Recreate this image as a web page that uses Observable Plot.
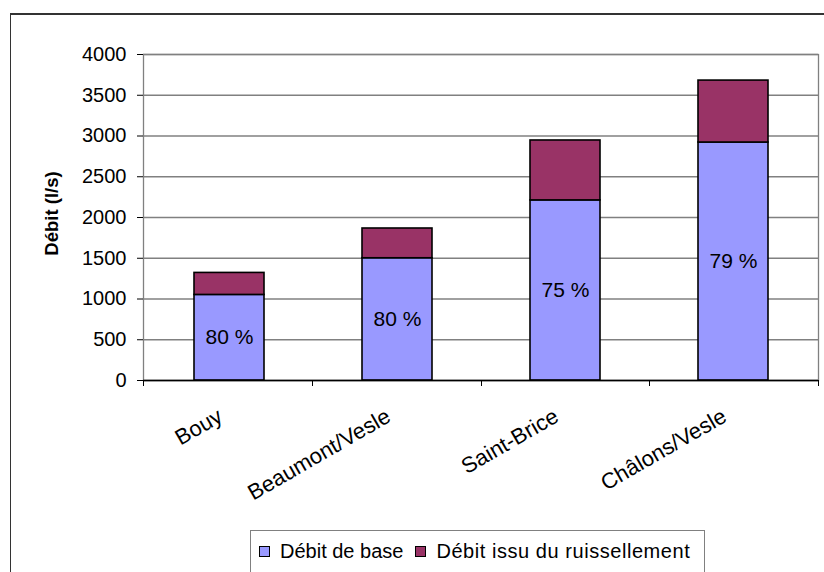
<!DOCTYPE html>
<html>
<head>
<meta charset="utf-8">
<script src="https://cdn.jsdelivr.net/npm/d3@7"></script>
<script src="https://cdn.jsdelivr.net/npm/@observablehq/plot@0.6"></script>
<style>
  html, body { margin: 0; padding: 0; background: #fff; }
  #chart {
    position: relative; width: 824px; height: 572px; overflow: hidden;
    font-family: "Liberation Sans", Arial, sans-serif; color: #000;
  }
  #frame {
    position: absolute; left: 10px; top: 13px; width: 900px; height: 700px;
    border-top: 2px solid #333; border-left: 1.5px solid #333;
  }
  #plot { position: absolute; left: 0; top: 0; }
  #legend {
    position: absolute; left: 250px; top: 530px; width: 455px; height: 60px;
    border: 1px solid #808080; background: #fff; box-sizing: border-box;
    display: flex; align-items: flex-start; padding: 9px 0 0 8px;
    font-size: 20px; white-space: nowrap;
  }
  .item { display: flex; align-items: center; margin-right: 12px; }
  .item:last-child span { letter-spacing: 0.55px; }
  .swatch {
    width: 9px; height: 9px; border: 1.2px solid #000; margin-right: 10px;
  }
</style>
</head>
<body>
<div id="chart">
  <div id="frame"></div>
  <div id="plot"></div>
  <div id="legend"></div>
</div>
<script>
// Gauging stations along the Vesle, upstream to downstream
const stations = ["Bouy", "Beaumont/Vesle", "Saint-Brice", "Châlons/Vesle"];
// Base flow and runoff flow, l/s
const baseFlow = [1050, 1500, 2210, 2920];
const runoffFlow = [270, 365, 735, 760];
// Share of base flow in the total, as printed on the bars
const baseShare = ["80 %", "80 %", "75 %", "79 %"];
const seriesNames = ["Débit de base", "Débit issu du ruissellement"];
const seriesColors = ["#9999FF", "#993366"];
const yTicks = [0, 500, 1000, 1500, 2000, 2500, 3000, 3500, 4000];
const yLabel = "Débit (l/s)";

const rows = stations.flatMap((s, i) => [
  {station: s, series: seriesNames[0], value: baseFlow[i]},
  {station: s, series: seriesNames[1], value: runoffFlow[i]}
]);
const shares = stations.map((s, i) => ({station: s, mid: baseFlow[i] / 2, label: baseShare[i]}));

// Small ticks on the category axis, at the boundaries between stations
const categoryTicks = (index, scales, values, dim) => {
  const g = d3.create("svg:g").attr("stroke", "#000").attr("stroke-width", 1);
  const n = stations.length;
  const x0 = dim.marginLeft, w = dim.width - dim.marginLeft - dim.marginRight;
  const yb = dim.height - dim.marginBottom;
  for (let i = 0; i <= n; ++i) {
    const x = Math.round(x0 + i * w / n) + 0.5;
    g.append("line").attr("x1", x).attr("x2", x).attr("y1", yb).attr("y2", yb + 6);
  }
  return g.node();
};

const chart = Plot.plot({
  width: 824,
  height: 525,
  marginLeft: 143,
  marginRight: 6,
  marginTop: 54,
  marginBottom: 145,
  style: {fontFamily: "'Liberation Sans', Arial, sans-serif", fontSize: "20px", color: "#000", background: "transparent"},
  x: {domain: stations, paddingInner: 0.586, paddingOuter: 0.293, axis: null},
  y: {domain: [0, 4000], axis: null},
  color: {domain: seriesNames, range: seriesColors},
  marks: [
    Plot.ruleY(yTicks, {stroke: "#808080", strokeWidth: 1.3}),
    Plot.frame({stroke: "#808080", strokeWidth: 1.3}),
    Plot.barY(rows, Plot.stackY({x: "station", y: "value", fill: "series", stroke: "#000", strokeWidth: 1.6})),
    Plot.text(shares, {x: "station", y: "mid", text: "label", fontSize: 21, fill: "#000"}),
    Plot.axisY({ticks: yTicks, tickFormat: d => String(d), tickSize: 6, tickPadding: 11, fontSize: 20, label: null, line: true, stroke: "#000"}),
    Plot.ruleY([0], {stroke: "#000", strokeWidth: 1.5}),
    categoryTicks,
    Plot.text(stations, {x: d => d, y: () => 0, text: d => d, rotate: -30, textAnchor: "end", lineAnchor: "middle", dx: -9, dy: 34, fontSize: 22, fill: "#000"}),
    Plot.text([yLabel], {frameAnchor: "left", textAnchor: "middle", text: d => d, rotate: -90, dx: -91, dy: -4, fontWeight: "bold", fontSize: 18.5, fill: "#000"})
  ]
});
document.getElementById("plot").appendChild(chart);

// Legend built from the series names and colours
const legend = d3.select("#legend");
seriesNames.forEach((name, i) => {
  const item = legend.append("div").attr("class", "item");
  item.append("div").attr("class", "swatch").style("background", seriesColors[i]);
  item.append("span").text(name);
});
</script>
</body>
</html>
